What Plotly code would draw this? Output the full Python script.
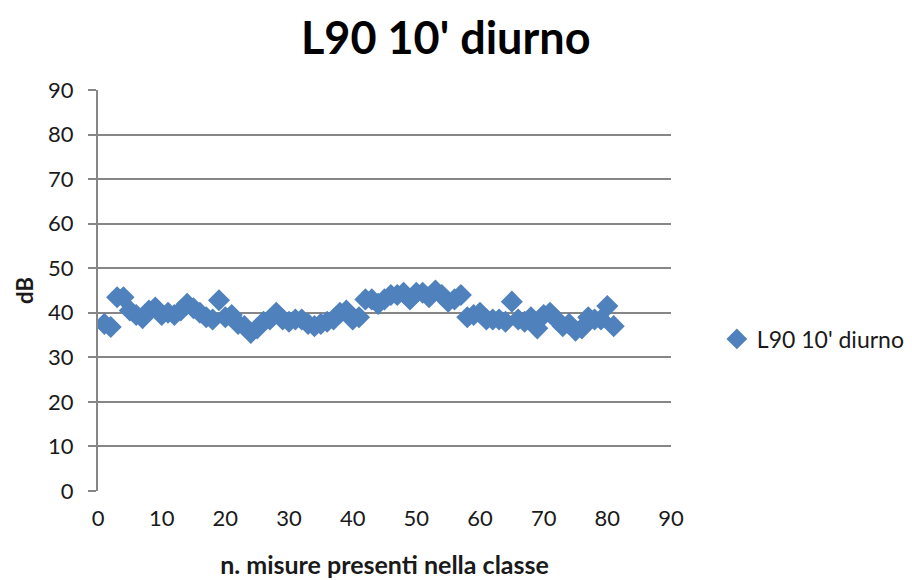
import plotly.graph_objects as go

# dati: L90 10' diurno
misure = list(range(1, 82))
livelli_db = [
    37.5, 36.8, 43.5, 43.5, 40.5, 39.5, 38.8, 40.5, 41.2, 39.5,
    40.0, 39.5, 40.5, 42.0, 41.0, 40.0, 39.0, 38.5, 42.8, 39.0,
    39.5, 37.5, 37.0, 35.5, 36.5, 38.0, 38.5, 40.0, 38.5, 38.0,
    38.5, 38.5, 37.5, 37.0, 37.5, 38.0, 38.5, 40.0, 40.5, 38.5,
    39.0, 43.0, 43.0, 42.0, 43.0, 44.0, 44.0, 44.5, 43.0, 44.5,
    44.5, 43.5, 45.0, 44.0, 42.5, 43.0, 44.0, 39.0, 39.5, 40.0,
    38.5, 38.5, 38.5, 38.0, 42.5, 38.5, 38.0, 39.0, 36.5, 39.5,
    40.0, 38.5, 37.0, 37.5, 36.0, 36.5, 39.0, 38.5, 38.5, 41.5,
    37.0,
]
nome_serie = "L90 10' diurno"
titolo = "L90 10' diurno"
x_tick = [0, 10, 20, 30, 40, 50, 60, 70, 80, 90]
y_tick = [0, 10, 20, 30, 40, 50, 60, 70, 80, 90]

FONT = "Lato"
GRIGIO = "#868686"

fig = go.Figure()
fig.add_trace(go.Scatter(
    x=misure,
    y=livelli_db,
    mode="markers",
    name=nome_serie,
    marker=dict(symbol="diamond", size=17, color="#4F81BD"),
))

fig.update_layout(
    width=912,
    height=580,
    paper_bgcolor="white",
    plot_bgcolor="white",
    # la pagina aggiunge ~8px di margine al body: compensato qui
    margin=dict(l=90, r=249, t=82, b=97, autoexpand=False),
    font=dict(family=FONT, color="#1a1a1a", size=22),
    title=dict(
        text=f"<b>{titolo}</b>",
        x=0.48, xanchor="center",
        y=0.947, yanchor="middle",
        font=dict(family=FONT, size=45, color="black"),
    ),
    showlegend=True,
    legend=dict(
        x=1.08, xanchor="left",
        y=0.379, yanchor="middle",
        font=dict(family=FONT, size=23),
        bgcolor="rgba(0,0,0,0)",
    ),
)

fig.update_xaxes(
    range=[0, 90],
    tickvals=x_tick,
    showgrid=False,
    zeroline=False,
    showline=False,
    ticks="",
    ticklabelstandoff=12,
    automargin=False,
    title=dict(text="<b>n. misure presenti nella classe</b>", font=dict(size=25), standoff=26),
)
fig.update_yaxes(
    range=[0, 90],
    tickvals=y_tick,
    showgrid=True,
    gridcolor=GRIGIO,
    gridwidth=2,
    zeroline=False,
    showline=True,
    linecolor=GRIGIO,
    linewidth=2,
    ticks="outside",
    ticklen=8,
    tickcolor=GRIGIO,
    tickwidth=2,
    ticklabelstandoff=10,
    automargin=False,
    title=dict(text="<b>dB</b>", font=dict(size=22), standoff=8),
)

fig.write_html("out.html")
